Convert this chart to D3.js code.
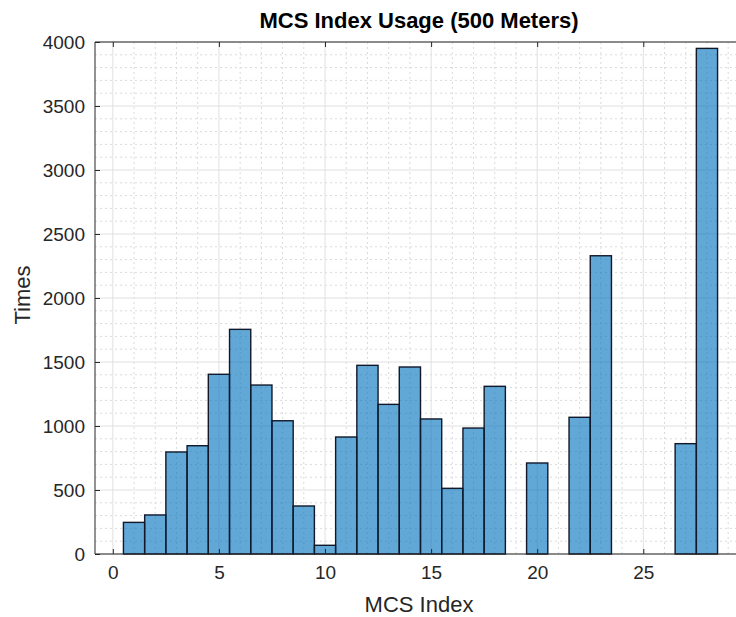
<!DOCTYPE html>
<html>
<head>
<meta charset="utf-8">
<script src="https://cdn.jsdelivr.net/npm/d3@7"></script>
<style>
  body { margin: 0; background: #fff; }
  text { font-family: "Liberation Sans", Arial, Helvetica, sans-serif; }
</style>
</head>
<body>
<div id="chart"></div>
<script>
// MCS index bins and how many times each was used
var mcsIndex = [1, 2, 3, 4, 5, 6, 7, 8, 9, 10, 11, 12, 13, 14, 15, 16, 17, 18, 19, 20, 21, 22, 23, 24, 25, 26, 27, 28];
var timesUsed = [247, 305, 797, 846, 1404, 1755, 1320, 1041, 375, 68, 914, 1474, 1169, 1461, 1055, 513, 984, 1310, 0, 711, 0, 1068, 2330, 0, 0, 0, 862, 3950];
var xTicks = [0, 5, 10, 15, 20, 25];
var yTicks = [0, 500, 1000, 1500, 2000, 2500, 3000, 3500, 4000];

var width = 736, height = 617;
var pLeft = 95, pTop = 42, pBottom = 554, pRight = 760;

var svg = d3.select("#chart").append("svg")
    .attr("width", width)
    .attr("height", height);

var x = d3.scaleLinear().domain([-0.84, 30.5]).range([pLeft, pRight]);
var y = d3.scaleLinear().domain([0, 4000]).range([pBottom, pTop]);

// grid, minor first (dotted) then major (solid)
var g = svg.append("g");
var minorX = d3.range(1, 31).filter(function (v) { return v % 5 != 0; });
var minorY = d3.range(100, 4000, 100).filter(function (v) { return v % 500 != 0; });

g.selectAll(".mx").data(minorX).enter().append("line")
    .attr("x1", d => x(d)).attr("x2", d => x(d))
    .attr("y1", pTop).attr("y2", pBottom)
    .attr("stroke", "#dadada").attr("stroke-dasharray", "2,3");
g.selectAll(".my").data(minorY).enter().append("line")
    .attr("x1", pLeft).attr("x2", pRight)
    .attr("y1", d => y(d)).attr("y2", d => y(d))
    .attr("stroke", "#dadada").attr("stroke-dasharray", "2,3");
g.selectAll(".gx").data(xTicks.concat([30])).enter().append("line")
    .attr("x1", d => x(d)).attr("x2", d => x(d))
    .attr("y1", pTop).attr("y2", pBottom)
    .attr("stroke", "#e0e0e0");
g.selectAll(".gy").data(yTicks).enter().append("line")
    .attr("x1", pLeft).attr("x2", pRight)
    .attr("y1", d => y(d)).attr("y2", d => y(d))
    .attr("stroke", "#e0e0e0");

// histogram bars (matlab style: blue at 0.6 alpha with dark edges)
var bins = mcsIndex.map(function (m, i) { return { idx: m, n: timesUsed[i] }; })
    .filter(function (d) { return d.n > 0; });

svg.append("g").selectAll("rect").data(bins).enter().append("rect")
    .attr("x", d => x(d.idx - 0.5))
    .attr("width", d => x(d.idx + 0.5) - x(d.idx - 0.5))
    .attr("y", d => y(d.n))
    .attr("height", d => y(0) - y(d.n))
    .attr("fill", "rgba(0,114,189,0.62)")
    .attr("stroke", "#10182a")
    .attr("stroke-width", 1.4);

// axes box
var axCol = "#262626";
svg.append("line").attr("x1", pLeft).attr("x2", pRight).attr("y1", pBottom).attr("y2", pBottom).attr("stroke", axCol);
svg.append("line").attr("x1", pLeft).attr("x2", pRight).attr("y1", pTop).attr("y2", pTop).attr("stroke", axCol);
svg.append("line").attr("x1", pLeft).attr("x2", pLeft).attr("y1", pTop).attr("y2", pBottom).attr("stroke", axCol);

var xAxis = svg.append("g").attr("transform", "translate(0," + pBottom + ")")
    .call(d3.axisBottom(x).tickValues(xTicks).tickFormat(d3.format("d"))
      .tickSizeInner(-5).tickSizeOuter(0).tickPadding(12));
var xTop = svg.append("g").attr("transform", "translate(0," + pTop + ")")
    .call(d3.axisTop(x).tickValues(xTicks).tickSizeInner(-5).tickSizeOuter(0).tickFormat(""));
var yAxis = svg.append("g").attr("transform", "translate(" + pLeft + ",0)")
    .call(d3.axisLeft(y).tickValues(yTicks).tickFormat(d3.format("d"))
      .tickSizeInner(-5).tickSizeOuter(0).tickPadding(10));

[xAxis, xTop, yAxis].forEach(function (a) {
  a.select(".domain").remove();
  a.selectAll("line").attr("stroke", axCol);
  a.selectAll("text").attr("fill", axCol).style("font-size", "19px")
      .style("font-family", "'Liberation Sans', Arial, sans-serif");
});
xAxis.selectAll("text").attr("dy", "0.71em");

// labels
svg.append("text")
    .attr("x", 419).attr("y", 28)
    .attr("text-anchor", "middle")
    .style("font-size", "22px").style("font-weight", "bold")
    .attr("fill", "#000")
    .text("MCS Index Usage (500 Meters)");

svg.append("text")
    .attr("x", 419).attr("y", 612)
    .attr("text-anchor", "middle")
    .style("font-size", "22px")
    .attr("fill", axCol)
    .text("MCS Index");

svg.append("text")
    .attr("transform", "translate(30,295) rotate(-90)")
    .attr("text-anchor", "middle")
    .style("font-size", "22px")
    .attr("fill", axCol)
    .text("Times");
</script>
</body>
</html>
